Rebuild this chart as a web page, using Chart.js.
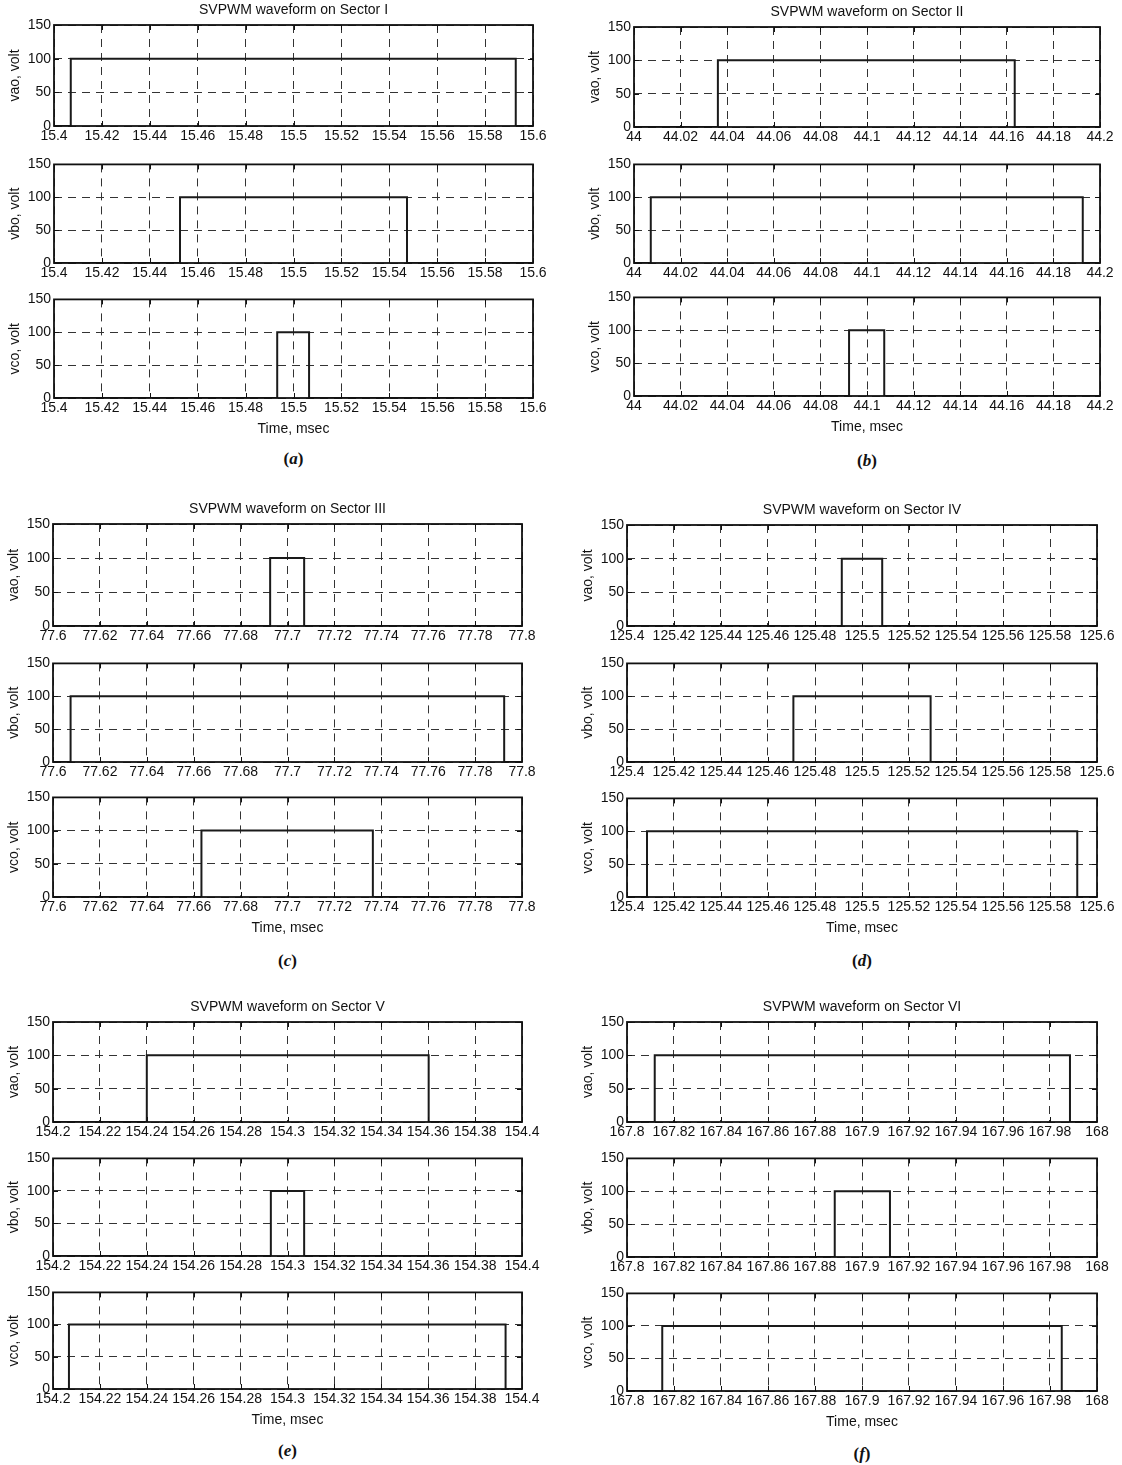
<!DOCTYPE html>
<html>
<head>
<meta charset="utf-8">
<script src="https://cdn.jsdelivr.net/npm/chart.js@4.4.1/dist/chart.umd.min.js"></script>
<style>
  html, body { margin: 0; padding: 0; background: #fff; }
  #page { position: relative; width: 1122px; height: 1465px; overflow: hidden; background: #fff; }
  #page canvas { position: absolute; }
  .caption { position: absolute; width: 60px; margin-left: -30px; text-align: center;
             font: bold 17px "Liberation Serif", serif; color: #111; line-height: 18px; }
</style>
</head>
<body>
<div id="page"></div>
<script>
// ---- data ----
const sectorNames = ['I', 'II', 'III', 'IV', 'V', 'VI'];
const panelLetters = ['a', 'b', 'c', 'd', 'e', 'f'];
const timeStart = [15.4, 44, 77.6, 125.4, 154.2, 167.8];
const timeEnd = [15.6, 44.2, 77.8, 125.6, 154.4, 168];
const phaseNames = ['vao', 'vbo', 'vco'];

// switching instants (msec) for each sector
const vaoOn  = [15.407, 44.036, 77.6926, 125.4914, 154.240, 167.8118];
const vaoOff = [15.5928, 44.1634, 77.7071, 125.5086, 154.3602, 167.9885];
const vboOn  = [15.4526, 44.0072, 77.6075, 125.4708, 154.2929, 167.8884];
const vboOff = [15.5474, 44.1926, 77.7924, 125.5292, 154.3071, 167.9119];
const vcoOn  = [15.4932, 44.0923, 77.6633, 125.4085, 154.2068, 167.8150];
const vcoOff = [15.5065, 44.1074, 77.7364, 125.5916, 154.3930, 167.9850];

const pulseHigh = 100;   // volt
const pulseLow = 0;
const yTicks = [0, 50, 100, 150];
const tickStep = 0.02;

// ---- layout (pixels) ----
const panelLeft  = [54, 634, 53, 627, 53, 627];
const panelRight = [533, 1100, 522, 1097, 522, 1097];
const plotTops = [
  [25, 162, 297], [27, 162, 295],
  [524, 661, 795], [525, 661, 796],
  [1022, 1156, 1290], [1022, 1156, 1291]
];
const plotBottoms = [
  [126, 263, 398], [127, 263, 396],
  [626, 762, 897], [626, 762, 897],
  [1122, 1256, 1389], [1122, 1257, 1391]
];
const captionY = [459, 461, 961, 961, 1451, 1454];

const textFont = { family: '"Liberation Sans", Arial, sans-serif', size: 14 };
const textColor = '#111';
const gridColor = '#333';
const Y_AXIS_W = 47;

const page = document.getElementById('page');

// box, inward tick marks and panel title
const frame = {
  id: 'frame',
  afterDatasetsDraw(chart, args, opts) {
    const { ctx, chartArea: a, scales: { x, y } } = chart;
    ctx.save();
    ctx.strokeStyle = '#111';
    ctx.lineWidth = 1;
    ctx.beginPath();
    x.ticks.forEach(t => {
      const px = Math.round(x.getPixelForValue(t.value)) + 0.5;
      ctx.moveTo(px, a.top); ctx.lineTo(px, a.top + 5);
      ctx.moveTo(px, a.bottom); ctx.lineTo(px, a.bottom - 5);
    });
    y.ticks.forEach(t => {
      const py = Math.round(y.getPixelForValue(t.value)) + 0.5;
      ctx.moveTo(a.left, py); ctx.lineTo(a.left + 5, py);
      ctx.moveTo(a.right, py); ctx.lineTo(a.right - 5, py);
    });
    ctx.stroke();
    ctx.lineWidth = 1.8;
    ctx.strokeRect(a.left, a.top, a.right - a.left, a.bottom - a.top);
    if (opts.title) {
      ctx.fillStyle = textColor;
      ctx.font = textFont.size + 'px ' + textFont.family;
      ctx.textAlign = 'center';
      ctx.textBaseline = 'middle';
      ctx.fillText(opts.title, (a.left + a.right) / 2, a.top - 15);
    }
    ctx.restore();
  }
};

function stepPoints(s, on, off) {
  return [
    { x: timeStart[s], y: pulseLow },
    { x: on, y: pulseLow },
    { x: on, y: pulseHigh },
    { x: off, y: pulseHigh },
    { x: off, y: pulseLow },
    { x: timeEnd[s], y: pulseLow }
  ];
}

function drawSubplot(s, p, on, off) {
  const isFirst = p === 0;
  const isLast = p === 2;
  const left = panelLeft[s], right = panelRight[s];
  const top = plotTops[s][p], bottom = plotBottoms[s][p];
  const padTop = isFirst ? 28 : 9;
  const xH = isLast ? 40 : 21;
  const padRight = 22;

  const canvas = document.createElement('canvas');
  canvas.width = Y_AXIS_W + (right - left) + padRight;
  canvas.height = padTop + (bottom - top) + xH + 2;
  canvas.style.left = (left - Y_AXIS_W) + 'px';
  canvas.style.top = (top - padTop) + 'px';
  page.appendChild(canvas);

  const xTicks = [];
  for (let i = 0; i <= Math.round((timeEnd[s] - timeStart[s]) / tickStep); i++) {
    xTicks.push(+(timeStart[s] + i * tickStep).toFixed(2));
  }

  new Chart(canvas.getContext('2d'), {
    type: 'scatter',
    data: {
      datasets: [{
        data: stepPoints(s, on, off),
        showLine: true,
        borderColor: '#1a1a1a',
        borderWidth: 2,
        pointRadius: 0,
        tension: 0,
        fill: false
      }]
    },
    options: {
      responsive: false,
      animation: false,
      events: [],
      layout: { autoPadding: false, padding: { top: padTop, right: padRight, bottom: 2, left: 0 } },
      plugins: {
        legend: { display: false },
        tooltip: { enabled: false },
        frame: { title: isFirst ? 'SVPWM waveform on Sector ' + sectorNames[s] : '' }
      },
      scales: {
        x: {
          type: 'linear',
          min: timeStart[s],
          max: timeEnd[s],
          afterBuildTicks: sc => { sc.ticks = xTicks.map(v => ({ value: v })); },
          afterFit: sc => { sc.height = xH; },
          ticks: {
            callback: v => String(+Number(v).toFixed(2)),
            font: textFont, color: textColor, padding: 2,
            maxRotation: 0, minRotation: 0, autoSkip: false
          },
          grid: { color: gridColor, lineWidth: 1, drawTicks: false },
          border: { display: false, dash: [8, 6] },
          title: { display: isLast, text: 'Time, msec', font: textFont, color: textColor, padding: 0 }
        },
        y: {
          min: 0,
          max: 150,
          afterBuildTicks: sc => { sc.ticks = yTicks.map(v => ({ value: v })); },
          afterFit: sc => { sc.width = Y_AXIS_W; },
          ticks: { font: textFont, color: textColor, padding: 3 },
          grid: { color: gridColor, lineWidth: 1, drawTicks: false },
          border: { display: false, dash: [8, 6] },
          title: { display: true, text: phaseNames[p] + ', volt', font: textFont, color: textColor, padding: 0 }
        }
      }
    },
    plugins: [frame]
  });
}

const onTimes = [vaoOn, vboOn, vcoOn];
const offTimes = [vaoOff, vboOff, vcoOff];

sectorNames.forEach((name, s) => {
  for (let p = 0; p < 3; p++) {
    drawSubplot(s, p, onTimes[p][s], offTimes[p][s]);
  }
  const cap = document.createElement('div');
  cap.className = 'caption';
  cap.innerHTML = '(<i>' + panelLetters[s] + '</i>)';
  cap.style.left = ((panelLeft[s] + panelRight[s]) / 2) + 'px';
  cap.style.top = (captionY[s] - 9) + 'px';
  page.appendChild(cap);
});
</script>
</body>
</html>
